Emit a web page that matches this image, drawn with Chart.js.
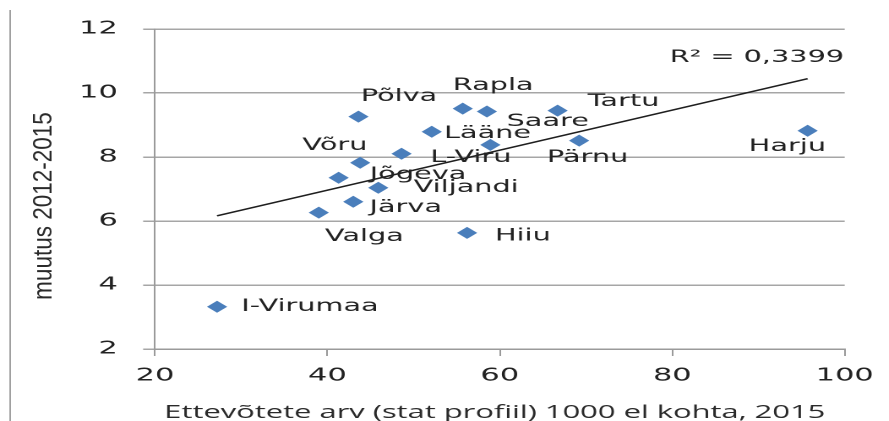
<!DOCTYPE html>
<html>
<head>
<meta charset="utf-8">
<script src="https://cdn.jsdelivr.net/npm/chart.js@4.4.1/dist/chart.umd.min.js"></script>
<style>
  html, body { margin: 0; padding: 0; background: #fff; overflow: hidden; }
  /* the original picture is stretched sideways, so the chart is too */
  #wrap { width: 526px; height: 421px; transform: scaleX(1.69); transform-origin: 0 0; }
</style>
</head>
<body>
<div id="wrap"><canvas id="myChart"></canvas></div>
<script>
// maakonnad (one point has no label in the original)
const counties = ["I-Virumaa", "Valga", "Järva", "Jõgeva", "Viljandi", "Võru", "L-Viru", "Põlva",
  "Lääne", "Rapla", "Saare", "", "Tartu", "Pärnu", "Harju", "Hiiu"];
// ettevõtete arv 1000 el kohta, 2015
const firms = [27.2, 39.0, 43.0, 41.3, 45.9, 43.8, 48.6, 43.6, 52.1, 55.7, 58.5, 58.9, 66.7, 69.2, 95.7, 56.2];
// muutus 2012-2015
const change = [3.32, 6.26, 6.60, 7.35, 7.04, 7.82, 8.10, 9.26, 8.79, 9.51, 9.42, 8.38, 9.45, 8.51, 8.82, 5.63];

const xTicks = [20, 40, 60, 80, 100];
const yTicks = [2, 4, 6, 8, 10, 12];
const xTitle = "Ettevõtete arv (stat profiil) 1000 el kohta, 2015";
const yTitle = "muutus 2012-2015";
const r2Text = "R² = 0,3399";

// where each label sits next to its point (dx, dy in px)
const labelOffsets = [[55, 0], [27, 24], [31, 6], [47, -3], [52, 0], [-15, -17], [41, 4], [24, -20],
  [33, 2], [18, -23], [36, 10], [0, 0], [39, -9], [5, 17], [-12, 16], [33, 3]];

const ctx = document.getElementById("myChart").getContext("2d");

// lineaarne trend (vähimruutude meetod)
function linearFit(xs, ys) {
  const n = xs.length;
  const mx = xs.reduce((a, b) => a + b, 0) / n;
  const my = ys.reduce((a, b) => a + b, 0) / n;
  let sxy = 0, sxx = 0;
  for (let i = 0; i < n; i++) {
    sxy += (xs[i] - mx) * (ys[i] - my);
    sxx += (xs[i] - mx) * (xs[i] - mx);
  }
  const slope = sxy / sxx;
  return { slope: slope, intercept: my - slope * mx };
}
const fit = linearFit(firms, change);
const xMin = Math.min(...firms);
const xMax = Math.max(...firms);
const trend = [xMin, xMax].map((x) => ({ x: x, y: fit.intercept + fit.slope * x }));

const points = firms.map((x, i) => ({ x: x, y: change[i] }));

const labelPlugin = {
  id: "pointLabels",
  afterDatasetsDraw(chart) {
    const c = chart.ctx;
    c.save();
    c.font = "17px 'DejaVu Sans'";
    c.fillStyle = "#222";
    c.textAlign = "center";
    c.textBaseline = "middle";
    chart.getDatasetMeta(0).data.forEach((pt, i) => {
      if (!counties[i]) return;
      c.fillText(counties[i], pt.x + labelOffsets[i][0], pt.y + labelOffsets[i][1]);
    });
    const tr = chart.getDatasetMeta(1).data;
    const end = tr[tr.length - 1];
    c.fillText(r2Text, end.x - 30, end.y - 21);
    c.restore();
  },
  afterDraw(chart) {
    const c = chart.ctx;
    const a = chart.chartArea;
    c.save();
    // x title
    c.font = "18.3px 'Open Sans'";
    c.fillStyle = "#2a2a2a";
    c.textAlign = "center";
    c.textBaseline = "alphabetic";
    c.fillText(xTitle, (a.left + a.right) / 2 - 3, a.bottom + 69);
    // y title, squeezed like in the original
    c.translate(a.left - 61, (a.top + a.bottom) / 2 + 17);
    c.rotate(-Math.PI / 2);
    c.scale(1, 0.68);
    c.font = "22.5px 'Liberation Sans'";
    c.fillText(yTitle, 0, 0);
    c.restore();
    // vasak äär
    c.save();
    c.strokeStyle = "#a0a0a0";
    c.lineWidth = 1;
    c.beginPath();
    c.moveTo(6, 10);
    c.lineTo(6, chart.height);
    c.stroke();
    c.restore();
  },
};

const myChart = new Chart(ctx, {
  type: "scatter",
  data: {
    datasets: [
      {
        label: "muutus",
        data: points,
        pointStyle: "rectRot",
        pointRadius: 6,
        pointHoverRadius: 6,
        backgroundColor: "#4a7ebb",
        borderWidth: 0,
      },
      {
        type: "line",
        label: "trend",
        data: trend,
        borderColor: "#1e1e1e",
        borderWidth: 1.5,
        pointRadius: 0,
        fill: false,
      },
    ],
  },
  options: {
    responsive: true,
    maintainAspectRatio: false,
    devicePixelRatio: 2,
    animation: false,
    layout: { padding: { top: 29, right: 25, left: 0, bottom: 0 } },
    plugins: {
      legend: { display: false },
      tooltip: { enabled: false },
    },
    scales: {
      x: {
        type: "linear",
        min: 20,
        max: 100,
        afterBuildTicks: (axis) => { axis.ticks = xTicks.map((v) => ({ value: v })); },
        afterFit: (scale) => { scale.height = 72; },
        ticks: { font: { family: "DejaVu Sans", size: 18 }, color: "#222", padding: 9, maxRotation: 0 },
        grid: { drawOnChartArea: false, drawTicks: true, tickLength: 7, color: "#9a9a9a", lineWidth: 1 },
        border: { display: true, color: "#9a9a9a", width: 1.5 },
      },
      y: {
        min: 2,
        max: 12,
        afterBuildTicks: (axis) => { axis.ticks = yTicks.map((v) => ({ value: v })); },
        afterFit: (scale) => { scale.width = 91.7; },
        ticks: { font: { family: "DejaVu Sans", size: 18 }, color: "#222", padding: 15 },
        grid: { color: "#a6a6a6", lineWidth: 1.5, drawTicks: true, tickLength: 7 },
        border: { display: true, color: "#9a9a9a", width: 1 },
      },
    },
  },
  plugins: [labelPlugin],
});
</script>
</body>
</html>
